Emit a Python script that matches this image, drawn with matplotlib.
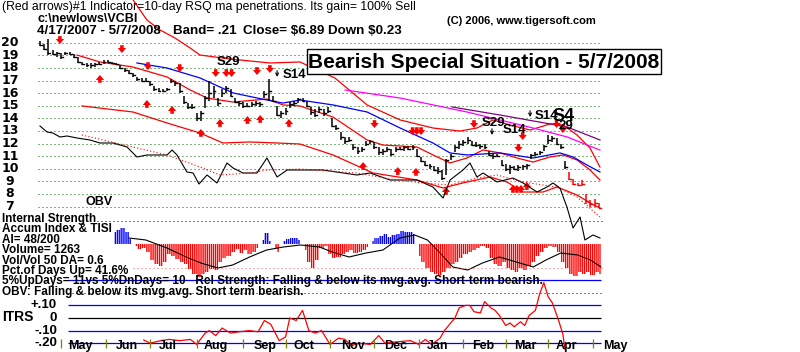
import numpy as np
import matplotlib
matplotlib.use('Agg')
import matplotlib.pyplot as plt
from matplotlib import font_manager, transforms
from matplotlib.patches import Rectangle

# ---- price bars, every second trading day from 4/17/2007 (day 0) ----
bar_days = list(range(0, 265, 2))
lows = [19.7, 19.4, 19.0, 19.0, 18.9, 18.7, 19.0, 19.0, 18.8, 18.4, 18.2, 18.1, 18.0, 18.1, 18.2, 18.3, 18.4,
        18.3, 18.2, 17.9, 17.7, 17.5, 17.3, 17.0, 16.9, 16.9, 16.6, 16.2, 16.1, 16.1, 16.2, 16.8, 16.6, 16.0,
        15.1, 14.7, 14.7, 13.8, 13.8, 14.8, 15.4, 15.6, 15.0, 15.7, 16.0, 15.7, 15.2, 15.0, 14.8, 14.9, 14.9,
        15.0, 14.9, 15.6, 15.4, 15.3, 14.2, 14.0, 14.3, 14.8, 15.0, 15.2, 15.3, 14.9, 14.3, 14.1, 14.4, 14.2,
        14.4, 13.3, 13.1, 12.3, 12.0, 12.1, 11.5, 11.2, 11.3, 11.8, 12.0, 11.6, 11.1, 11.1, 11.3, 11.0, 11.3,
        11.5, 11.4, 11.5, 11.5, 10.9, 10.5, 10.2, 10.0, 9.8, 9.6, 9.1, 9.5, 10.7, 11.3, 11.6, 11.8, 12.0, 11.8,
        11.7, 11.6, 11.6, 11.0, 10.8, 10.9, 10.2, 9.8, 9.6, 9.9, 9.8, 9.9, 10.0, 10.8, 11.0, 11.1, 11.4, 12.0,
        12.1, 11.9, 11.6, 10.0, 9.1, 8.7, 8.6, 8.6, 7.2, 7.0, 7.0, 6.9]
highs = [20.1, 19.9, 20.3, 19.4, 19.3, 19.2, 19.3, 19.3, 19.1, 18.9, 18.5, 18.4, 18.4, 18.4, 18.5, 18.6, 18.6,
         18.5, 18.4, 18.2, 18.0, 17.8, 17.6, 17.3, 17.2, 17.2, 17.0, 16.6, 16.4, 16.3, 16.4, 17.1, 17.0, 16.8,
         15.8, 15.2, 15.1, 14.4, 14.6, 15.8, 17.0, 16.6, 15.6, 16.3, 16.6, 16.3, 15.6, 15.4, 15.3, 15.2, 15.3,
         15.4, 15.3, 16.2, 17.1, 15.8, 15.0, 14.6, 14.8, 15.3, 15.4, 15.6, 15.6, 15.4, 14.9, 14.7, 14.9, 14.7,
         14.9, 14.0, 13.5, 12.9, 12.5, 12.5, 12.0, 11.7, 11.75, 12.2, 12.3, 12.1, 11.7, 11.6, 11.75, 11.6, 11.75,
         11.75, 11.8, 11.8, 11.9, 11.6, 10.9, 10.6, 10.4, 10.2, 10.1, 9.9, 10.8, 11.2, 11.9, 12.2, 12.3, 12.5,
         12.2, 12.1, 12.0, 12.0, 11.4, 11.2, 11.2, 10.7, 10.4, 10.3, 10.2, 10.3, 10.3, 10.4, 11.2, 11.35, 11.4,
         11.9, 12.7, 12.6, 12.4, 12.0, 10.6, 9.7, 9.2, 8.9, 9.1, 8.0, 7.5, 7.6, 7.3]
closes = [19.8, 19.5, 19.2, 19.1, 19.2, 18.9, 19.2, 19.1, 18.9, 18.5, 18.3, 18.2, 18.2, 18.3, 18.3, 18.5, 18.5,
          18.4, 18.3, 18.0, 17.8, 17.6, 17.4, 17.1, 17.0, 17.0, 16.7, 16.3, 16.2, 16.2, 16.3, 17.0, 16.8, 16.2,
          15.3, 14.9, 14.9, 14.0, 14.4, 15.6, 16.0, 16.2, 15.2, 16.0, 16.4, 15.8, 15.3, 15.2, 15.0, 15.0, 15.1,
          15.2, 15.1, 15.9, 16.2, 15.4, 14.3, 14.4, 14.6, 15.1, 15.2, 15.5, 15.4, 15.0, 14.5, 14.3, 14.7, 14.4,
          14.6, 13.4, 13.2, 12.5, 12.2, 12.3, 11.7, 11.4, 11.6, 12.0, 12.2, 11.7, 11.3, 11.4, 11.6, 11.2, 11.6,
          11.6, 11.7, 11.6, 11.7, 11.0, 10.6, 10.3, 10.2, 9.9, 9.8, 9.3, 10.7, 11.0, 11.7, 12.0, 12.1, 12.3,
          11.9, 11.9, 11.8, 11.7, 11.1, 11.0, 11.0, 10.3, 10.0, 10.1, 10.0, 10.1, 10.2, 10.3, 11.1, 11.2, 11.3,
          11.8, 12.3, 12.4, 12.0, 11.7, 10.1, 9.2, 8.8, 8.7, 8.8, 7.4, 7.2, 7.3, 6.9]

# ---- moving averages and bands (day, price) ----
upper_days = [44, 50.5, 56.7, 63.8, 70.9, 75.6, 89.7, 108.6, 122.8, 139.3, 154.5, 170.1, 185.6, 198.4, 206.4,
              214.0, 222.0, 231.5, 240.9, 247.1, 253.7, 259.8, 264.5]
upper_vals = [23.39, 21.8, 21.01, 20.37, 19.58, 19.02, 18.71, 18.39, 18.47, 17.2, 15.06, 13.87, 13.23, 12.99,
              13.23, 13.87, 13.47, 13.07, 13.55, 13.47, 12.67, 11.64, 10.13]
ma_days = [17.5, 28.3, 43.9, 60.0, 70.9, 78.9, 91.2, 107.2, 114.8, 122.8, 138.4, 154.5, 162.0, 178.1, 185.6,
           193.7, 201.7, 209.3, 217.3, 225.3, 232.9, 240.9, 247.1, 253.7, 259.8, 264.5]
ma_vals = [19.02, 18.47, 18.07, 17.28, 16.25, 15.61, 15.29, 15.53, 15.06, 14.98, 14.1, 12.28, 11.88, 11.72,
           11.09, 10.46, 10.85, 11.49, 11.25, 10.85, 10.53, 10.93, 11.09, 10.69, 9.9, 9.1]
lower_days = [19.8, 43.9, 60.0, 75.6, 86.4, 99.2, 112.0, 122.8, 138.4, 157.3, 178.1, 190.4, 199.8, 212.6,
              220.6, 228.2, 237.6, 244.2, 253.7, 259.8, 264.5]
lower_vals = [14.98, 14.5, 13.63, 12.83, 12.04, 12.12, 12.04, 11.96, 11.09, 9.66, 9.1, 8.47, 8.87, 9.34, 8.94,
              8.15, 8.15, 8.55, 7.91, 7.28, 6.88]
blue_days = [45.8, 60.0, 75.6, 91.2, 107.2, 114.8, 122.8, 138.4, 154.5, 170.1, 185.6, 193.7, 201.7, 217.3,
             232.9, 245.6, 251.8, 258.4, 264.5]
blue_vals = [18.39, 17.99, 17.2, 16.01, 15.45, 15.21, 15.45, 15.06, 14.5, 13.23, 12.04, 11.25, 11.09, 11.25,
             10.85, 11.25, 10.93, 10.29, 9.74]
magenta_days = [144.1, 170.1, 201.7, 232.9, 249.0, 264.5]
magenta_vals = [16.25, 15.61, 14.5, 13.23, 12.52, 11.48]
purple_days = [194.6, 217.3, 249.0, 264.5]
purple_vals = [14.9, 14.26, 13.31, 12.28]

# ---- OBV and its moving average ----
obv_days = [0, 3.3, 6.1, 9.4, 12.8, 17.5, 23.6, 28.3, 34.5, 41.1, 45.8, 50.5, 55.3, 60.0, 62.4, 64.7, 69.4,
            72.3, 75.1, 78.9, 83.6, 88.3, 91.2, 95.9, 102.5, 107.2, 112.0, 116.7, 122.8, 133.7, 149.7, 155.9,
            165.3, 178.1, 185.6, 190.4, 193.7, 199.8, 203.1, 206.4, 209.3, 215.9, 223.4, 228.2, 234.8, 239.5,
            242.3, 245.6, 248.9, 251.8, 255.1, 257.4, 261.2, 264.5]
obv_vals = [124, 118, 117, 113, 114, 112, 110, 107, 107, 103, 93, 95, 95, 95, 100, 95, 78, 77, 66, 75, 67, 87,
            82, 77, 77, 92, 73, 80, 80, 80, 75, 77, 70, 70, 63, 52, 70, 80, 87, 73, 77, 68, 72, 67, 58, 63, 67,
            62, 43, 22, 33, 10, 15, 12]
obv_ma_days = [19.8, 43.9, 60.0, 75.6, 85.0, 99.2, 107.2, 122.8, 149.7, 165.3, 180.9, 193.7, 206.4, 215.9,
               228.2, 237.6, 244.2, 253.7, 264.5]
obv_ma_vals = [115, 103, 95, 83, 75, 77, 80, 81, 77, 71, 67, 65, 72, 75, 68, 65, 63, 53, 33]

# ---- signals ----
sell_days = [9.4, 38.7, 51, 66, 83, 88, 90.5, 102.5, 108.6, 158, 176, 178, 180, 205, 226, 228, 244, 247]
sell_prices = [19.9, 19.18, 17.83, 17.67, 17.28, 17.28, 17.28, 17.44, 17.6, 13.23, 12.67, 12.67, 12.67, 13.23,
               11.33, 12.28, 13.23, 12.83]
buy_days = [28.3, 50.5, 62.4, 76, 85, 98, 104, 117.6, 152.6, 169, 177.6, 191.8, 223.4, 225.3, 227.2, 230]
buy_prices = [17.44, 15.45, 14.98, 13.15, 13.94, 14.18, 14.26, 13.94, 10.53, 10.13, 10.06, 8.55, 8.71, 8.71,
              8.71, 8.94]
black_sig_days = [112, 213.5, 231.5]
black_sig_prices = [17.28, 12.67, 14.1]
sig_labels = ['S29', 'S14', 'S29', 'S14', 'S14', 'S4', '29']
sig_label_days = [83.5, 114.8, 208.5, 218.5, 233.8, 242.3, 244.7]
sig_label_prices = [18.47, 17.44, 13.63, 13.07, 14.18, 14.15, 13.4]

# ---- Accumulation index (every second day) and its average ----
ai_days = list(range(35, 266, 2))
ai_vals = [12, 14, 16, 12, 5, -2, -5, -4, -8, -16, -20, -22, -18, -10, -12, -15, -18, -20, -25, -30, -33, -30,
           -28, -25, -26, -18, -14, -12, -8, -5, -9, -6, -10, -8, -4, 4, 11, 3, -4, -8, 3, 5, 6, 6, 4, -6, -18,
           -24, -16, -4, -2, -10, -14, -13, -10, -8, -6, -9, -8, -6, -3, 3, 6, 8, 10, 7, 9, 10, 13, 12, 12, 10,
           -12, -18, -24, -28, -30, -31, -28, -24, -20, -18, -14, -10, -8, -6, -4, -2, -4, -14, -20, -22, -18,
           -24, -26, -28, -24, -26, -22, -18, -12, -8, -4, -2, -3, -8, -18, -24, -30, -32, -28, -30, -28, -31,
           -28, -30]
ai_ma_days = [42, 50, 60, 69, 76, 84, 91, 99, 107, 115, 123, 132, 138, 146, 154, 162, 170, 177, 183, 189, 195,
              202, 209, 217, 225, 233, 239, 246, 254, 260, 265]
ai_ma_vals = [6, 4, -4, -13, -19, -24, -21, -13, -6, -3, -1, -3, -8, -13, -9, -6, 6, 9, 4, -9, -23, -26, -19,
              -13, -18, -23, -16, -9, -11, -16, -23]

# ---- ITRS ----
itrs_days = [49, 52, 57, 61, 66, 71, 74, 78, 80, 83, 86, 90, 94, 99, 103, 106, 109, 113, 116, 118, 121, 124,
             127, 130, 133, 137, 141, 144, 147, 151, 156, 160, 163, 168, 175, 179, 182, 185, 189, 191, 194, 196,
             198, 201, 203, 205, 208, 210, 213, 215, 217, 220, 222, 224, 227, 229, 231, 234, 236, 238, 240, 242,
             245, 247, 248]
itrs_vals = [-0.175, -0.2, -0.18, -0.17, -0.18, -0.17, -0.21, -0.12, -0.1, -0.14, -0.08, -0.12, -0.11, -0.1,
             -0.11, -0.02, -0.05, -0.18, -0.15, 0.0, -0.02, 0.06, -0.1, -0.12, -0.1, -0.21, -0.16, -0.17, -0.22,
             -0.2, -0.21, -0.14, -0.2, -0.19, -0.18, -0.21, -0.17, -0.21, -0.16, -0.1, -0.04, 0.0, 0.08, 0.1,
             0.1, 0.05, 0.04, 0.13, 0.08, 0.06, 0.02, -0.06, -0.04, -0.07, -0.03, -0.06, 0.02, 0.06, 0.19, 0.28,
             0.17, 0.12, -0.02, -0.13, -0.25]
itrs_levels = [0.3, 0.1, 0.0, -0.1, -0.2]
itrs_labels = ['+.10', '0', '-.10', '-.20']
itrs_label_vals = [0.1, 0.0, -0.1, -0.2]

month_tick_days = [10, 31, 52, 74, 96, 116, 137, 158, 179, 200, 220, 240, 261]
month_names = ['May', 'Jun', 'Jul', 'Aug', 'Sep', 'Oct', 'Nov', 'Dec', 'Jan', 'Feb', 'Mar', 'Apr', 'May']
month_label_days = [18.9, 41.1, 60.5, 83.1, 106.3, 124.7, 147.9, 168.2, 188.0, 209.3, 229.1, 248.9, 271.6]
price_ticks = list(range(7, 21))

info_lines = ['Internal Strength', 'Accum Index & TISI', 'AI= 48/200', 'Volume= 1263', 'Vol/Vol 50 DA= 0.6',
              'Pct.of Days Up= 41.6%',
              '5%UpDays= 11vs 5%DnDays= 10   Rel Strength: Falling & below its mvg.avg. Short-term bearish.',
              'OBV: Falling & below its mvg.avg. Short term bearish.']
header_parts = ['4/17/2007 - 5/7/2008', 'Band= .21', 'Close= \\$6.89', 'Down \\$0.23']
header_part_x = [37, 173, 243, 328]

# ------------------------------------------------------------------
W, H = 800, 352
X0, PXD = 40, 2.117  # pixel of day 0, pixels per trading day

names = {f.name for f in font_manager.fontManager.ttflist}
NARROW = 'Liberation Sans Narrow' if 'Liberation Sans Narrow' in names else 'Liberation Sans'

RED, BLUE, GREEN = '#ff0000', '#0000ff', '#007000'
plt.rcParams['hatch.linewidth'] = 1.0

fig = plt.figure(figsize=(W / 100, H / 100), dpi=100)
fig.patch.set_facecolor('white')


def px_axes(top, bottom):
    a = fig.add_axes([0, 1 - bottom / H, 1, (bottom - top) / H])
    a.set_xlim(-X0 / PXD, (W - X0) / PXD)
    a.set_axis_off()
    a.patch.set_alpha(0)
    return a


def ftext(x, y, s, **kw):
    kw.setdefault('va', 'center')
    kw.setdefault('family', NARROW)
    return fig.text(x / W, 1 - y / H, s, **kw)


xleft = -2 / PXD
xright = 265.6

# price panel
ax = px_axes(0, 250)
ax.set_ylim(20 - (250 - 42.7) / 12.6, 20 + 42.7 / 12.6)
for p in price_ticks:
    ax.hlines(p, xleft, xright, color=GREEN, lw=0.72, linestyles=(0, (1, 3)))
tl = transforms.blended_transform_factory(fig.transFigure, ax.transData)
for p in price_ticks:
    ax.text(10 / W, p, str(p), transform=tl, ha='center', va='center', fontsize=9, fontweight='bold',
            family='DejaVu Sans')

ax.plot(upper_days, upper_vals, color=RED, lw=0.9)
ax.plot(ma_days, ma_vals, color=RED, lw=0.9)
ax.plot(lower_days, lower_vals, color=RED, lw=0.9)
ax.plot(blue_days, blue_vals, color=BLUE, lw=0.9)
ax.plot(magenta_days, magenta_vals, color='#ff00ff', lw=0.9)
ax.plot(purple_days, purple_vals, color='#800080', lw=0.9)

bar_cols = ['black' if d < 250 else RED for d in bar_days]
ax.vlines(bar_days, lows, highs, colors=bar_cols, lw=1.1)
for d, c, col in zip(bar_days, closes, bar_cols):
    ax.plot([d, d + 0.9], [c, c], color=col, lw=1.0)

L = 0.62
arrow_style = 'simple,head_length=0.45,head_width=0.75,tail_width=0.32'
for d, p in zip(sell_days, sell_prices):
    ax.annotate('', xy=(d, p), xytext=(d, p + L),
                arrowprops=dict(arrowstyle=arrow_style, color=RED, lw=0, mutation_scale=8,
                                shrinkA=0, shrinkB=0))
for d, p in zip(buy_days, buy_prices):
    ax.annotate('', xy=(d, p), xytext=(d, p - L),
                arrowprops=dict(arrowstyle=arrow_style, color=RED, lw=0, mutation_scale=8,
                                shrinkA=0, shrinkB=0))
for d, p in zip(black_sig_days, black_sig_prices):
    ax.annotate('', xy=(d, p), xytext=(d, p + 0.5),
                arrowprops=dict(arrowstyle='->', color='black', lw=0.8, mutation_scale=5, shrinkA=0, shrinkB=0))
for s, d, p in zip(sig_labels, sig_label_days, sig_label_prices):
    ax.text(d, p, s, ha='left', va='center', fontsize=13 if s == 'S4' else 9.5, fontweight='bold',
            family='Liberation Sans', color='black')

# OBV overlay
ax_obv = px_axes(0, 250)
ax_obv.set_ylim(0, 250)
ax_obv.plot(obv_days, obv_vals, color='black', lw=0.8)
ax_obv.plot(obv_ma_days, obv_ma_vals, color=RED, lw=0.8, linestyle=(0, (1, 2)))

# accumulation panel, striped histogram
ax_ai = px_axes(212, 280)
ax_ai.set_ylim(-36, 32)
ai_arr = np.array(ai_vals)
ax_ai.fill_between(ai_days, 0, ai_arr, where=ai_arr >= 0, step='mid', facecolor='none', edgecolor=BLUE,
                   hatch='|' * 8, linewidth=0, antialiased=False)
ax_ai.fill_between(ai_days, 0, ai_arr, where=ai_arr <= 0, step='mid', facecolor='none', edgecolor=RED,
                   hatch='|' * 8, linewidth=0, antialiased=False)
ax_ai.plot(ai_ma_days, ai_ma_vals, color='black', lw=0.8)
ax_ai.hlines(23, 27, xright, color='black', lw=0.72, linestyles=(0, (1, 3)))
ax_ai.hlines(-24, 44, xright, color='#ff6060', lw=0.72, linestyles=(0, (1, 3)))

# ITRS panel
ax_it = px_axes(272, 352)
ax_it.set_ylim(-0.27, 0.365)
for v in itrs_levels:
    ax_it.hlines(v, 13, 265, color='black' if v == 0 else BLUE, lw=0.9)
ax_it.hlines(0.2, 13, 265, color='black', lw=0.72, linestyles=(0, (1, 3)))
ax_it.plot(itrs_days, itrs_vals, color=RED, lw=0.9)
ax_it.vlines(month_tick_days, -0.238, -0.167, color='#808000', lw=0.9)
for d, m in zip(month_label_days, month_names):
    ax_it.text(d, -0.222, m, ha='center', va='center', fontsize=9, fontweight='bold', family=NARROW)
tl2 = transforms.blended_transform_factory(fig.transFigure, ax_it.transData)
for v, s in zip(itrs_label_vals, itrs_labels):
    ax_it.text(57 / W, v, s, transform=tl2, ha='right', va='center', fontsize=9.5, fontweight='bold',
               family=NARROW)

# header and side texts
ftext(2, 7, '(Red arrows)#1 Indicator=10-day RSQ ma penetrations. Its gain= 100% Sell', fontsize=8.8)
ftext(37, 19.5, 'c:\\newlows\\VCBI', fontsize=9.0, fontweight='bold')
for x, s in zip(header_part_x, header_parts):
    ftext(x, 31.5, s, fontsize=9.6, fontweight='bold')
ftext(447, 21, '(C) 2006, www.tigersoft.com', fontsize=8.0, fontweight='bold')
ftext(85, 202, 'OBV', fontsize=9, fontweight='bold')
for i, s in enumerate(info_lines):
    ftext(2, 219 + i * 10.4, s, fontsize=8.5, fontweight='bold')
ftext(2, 317, 'ITRS', fontsize=10, fontweight='bold')

fig.patches.append(Rectangle((307 / W, 1 - 74 / H), 354 / W, 25 / H, transform=fig.transFigure,
                             facecolor='white', edgecolor='black', lw=1, zorder=5))
ftext(484, 62, 'Bearish Special Situation - 5/7/2008', fontsize=15, fontweight='bold', ha='center', zorder=6)

fig.savefig('out.png', dpi=100, facecolor='white')
